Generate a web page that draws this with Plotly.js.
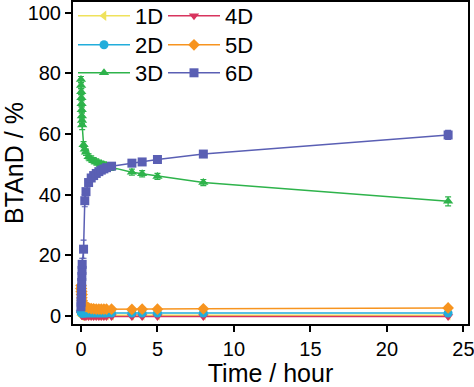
<!DOCTYPE html>
<html>
<head>
<meta charset="utf-8">
<script src="https://cdn.plot.ly/plotly-3.0.1.min.js"></script>
<style>html,body{margin:0;padding:0;background:#fff;}</style>
</head>
<body>
<div id="chart" style="width:474px;height:387px;"></div>
<script>
// Time points (hours)
const time = [0, 0.01, 0.02, 0.03, 0.04, 0.05, 0.06, 0.07, 0.08, 0.17, 0.25, 0.33, 0.5, 0.67, 0.83, 1, 1.17, 1.33, 1.5, 1.67, 2, 3.33, 4, 5, 8, 24];

// Series values (%)
const d1 = [0.2, 0.2, 0.2, 0.2, 0.2, 0.2, 0.2, 0.2, 0.2, 0.2, 0.2, 0.2, 0.2, 0.2, 0.2, 0.2, 0.2, 0.2, 0.2, 0.2, 0.2, 0.2, 0.2, 0.2, 0.2, 0.2];
const d2 = [1.6, 1.4, 1.2, 1.1, 1.0, 1.0, 0.9, 0.9, 0.9, 0.9, 0.9, 0.9, 0.9, 0.9, 0.9, 0.9, 0.9, 0.9, 0.9, 0.9, 0.9, 0.9, 0.9, 0.9, 0.9, 0.9];
const d3 = [78, 76, 74, 72, 70, 68, 66, 64.5, 63, 56.5, 55, 54, 52.5, 51.8, 51.2, 50.8, 50.4, 50.1, 49.8, 49.5, 49, 47.4, 46.9, 46, 44, 37.8];
const d4 = [1.0, 0.8, 0.6, 0.5, 0.4, 0.3, 0.2, 0.1, 0.0, 0.0, -0.2, -0.2, -0.2, -0.2, -0.2, -0.2, -0.2, -0.2, -0.2, -0.2, -0.2, -0.2, -0.2, -0.2, -0.2, -0.2];
const d5 = [9, 10, 8, 9, 7, 8, 6, 7, 5, 4, 3.5, 3, 2.6, 2.4, 2.3, 2.2, 2.2, 2.2, 2.2, 2.2, 2.2, 2.1, 2.2, 2.2, 2.3, 2.6];
const d6 = [3, 4.5, 6, 7.5, 9, 11, 13, 15, 17, 22, 38, 41, 44, 45.5, 46.3, 47, 47.6, 48.1, 48.5, 48.9, 49.4, 50.4, 50.8, 51.6, 53.4, 59.7];

// Error bars (%)
const e3 = [1, 1, 1, 1, 1, 1, 1, 1, 1.5, 1, 1, 1, 1, 1, 1, 1, 1, 1, 1, 1, 1, 1, 1, 1, 1, 1.5];
const e6 = [1, 1, 1, 1, 1, 1, 1, 1.5, 2, 3, 2, 1, 1, 1, 1, 1, 1, 1, 1, 1, 1, 1, 1, 1, 1, 1.5];
const e5 = [1, 1, 1, 1, 1, 1, 1, 1, 1, 0.8, 0.8, 0.6, 0.5, 0.5, 0.5, 0.5, 0.5, 0.5, 0.5, 0.5, 0.5, 0.5, 0.5, 0.5, 0.5, 0.5];

const names = ['1D', '4D', '2D', '5D', '3D', '6D'];

function tr(name, y, color, symbol, leg, err) {
  const t = {
    x: time, y: y, name: name, type: 'scatter', mode: 'lines+markers',
    legend: leg,
    line: {color: color, width: 1.5},
    marker: {color: color, symbol: symbol, size: 9}
  };
  if (err) t.error_y = {type: 'data', array: err, visible: true, color: color, thickness: 1.2, width: 3};
  return t;
}

const data = [
  tr(names[0], d1, '#EFE25C', 'triangle-left', 'legend'),
  tr(names[1], d4, '#D8345E', 'triangle-down', 'legend'),
  tr(names[2], d2, '#22ADDB', 'circle', 'legend2'),
  tr(names[3], d5, '#F7941F', 'diamond', 'legend2', e5),
  tr(names[4], d3, '#2EB34B', 'triangle-up', 'legend3', e3),
  tr(names[5], d6, '#5A5FB4', 'square', 'legend3', e6)
];

const axisCommon = {
  showline: true, linecolor: '#000', linewidth: 2, mirror: true,
  ticks: 'outside', ticklen: 6, tickwidth: 2, tickcolor: '#000',
  showgrid: false, zeroline: false, ticklabeloverflow: 'allow',
  tickfont: {family: 'Liberation Sans, Arial, sans-serif', size: 20, color: '#000'}
};

function leg(ypx) {
  return {
    orientation: 'h', xref: 'paper', yref: 'paper',
    x: 0, y: (324 - ypx) / 322, xanchor: 'left', yanchor: 'middle',
    entrywidth: 23, entrywidthmode: 'pixels', itemwidth: 52,
    font: {size: 22, color: '#000'}, bgcolor: 'rgba(0,0,0,0)', borderwidth: 0
  };
}

const layout = {
  width: 474, height: 387,
  margin: {l: 73, r: 6, t: 2, b: 63, autoexpand: false},
  paper_bgcolor: '#fff', plot_bgcolor: '#fff',
  font: {family: 'Liberation Sans, Arial, sans-serif', color: '#000'},
  showlegend: true,
  legend: leg(16),
  legend2: leg(45),
  legend3: leg(73),
  xaxis: Object.assign({}, axisCommon, {
    range: [-0.52, 25.3], tickvals: [0, 5, 10, 15, 20, 25],
    title: {text: 'Time / hour', font: {size: 25, color: '#000'}, standoff: 15}
  }),
  yaxis: Object.assign({}, axisCommon, {
    range: [-2.7, 103.6], tickvals: [0, 20, 40, 60, 80, 100],
    title: {text: 'BTAnD / %', font: {size: 25, color: '#000'}, standoff: 10}
  })
};

Plotly.newPlot('chart', data, layout, {displayModeBar: false, staticPlot: true});
</script>
</body>
</html>
